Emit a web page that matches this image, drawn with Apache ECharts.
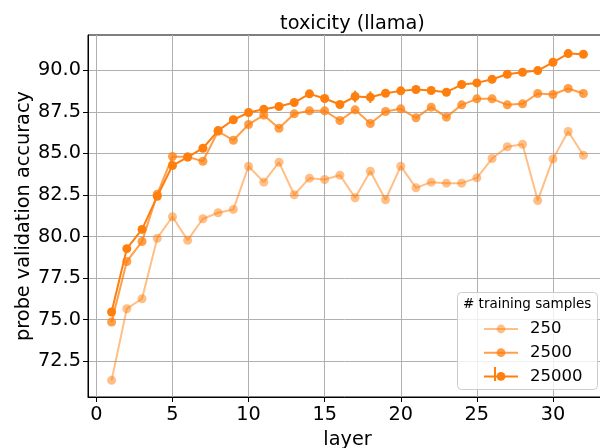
<!DOCTYPE html>
<html><head><meta charset="utf-8">
<script src="https://cdn.jsdelivr.net/npm/echarts@6/dist/echarts.min.js"></script>
<style>html,body{margin:0;padding:0;background:#fff}#c{width:600px;height:448px}</style>
</head><body><div id="c"></div>
<script>
var layers = [1,2,3,4,5,6,7,8,9,10,11,12,13,14,15,16,17,18,19,20,21,22,23,24,25,26,27,28,29,30,31,32];
var acc250 = [71.35,75.66,76.26,79.9,81.19,79.78,81.07,81.43,81.63,84.23,83.27,84.47,82.51,83.51,83.43,83.69,82.33,83.93,82.21,84.23,82.93,83.27,83.21,83.21,83.53,84.69,85.40,85.55,82.17,84.67,86.32,84.89];
var acc2500 = [74.86,78.5,79.7,82.55,84.81,84.79,84.53,86.33,85.79,86.74,87.3,86.51,87.38,87.56,87.56,86.98,87.62,86.80,87.52,87.68,87.14,87.78,87.18,87.92,88.28,88.28,87.92,87.98,88.60,88.54,88.90,88.60];
var acc25000 = [75.46,79.27,80.43,82.42,84.27,84.78,85.31,86.37,87.02,87.46,87.65,87.82,88.06,88.58,88.30,87.94,88.42,88.38,88.62,88.76,88.84,88.78,88.68,89.14,89.24,89.46,89.76,89.88,89.98,90.48,91.0,90.96];
var err25000 = [0.25,0.15,0.15,0.15,0.15,0.1,0.15,0.15,0.15,0.1,0.15,0.1,0.1,0.15,0.1,0.1,0.35,0.35,0.15,0.15,0.15,0.15,0.1,0.1,0.1,0.1,0.1,0.1,0.1,0.1,0.15,0.1];
var xTicks = [0,5,10,15,20,25,30];
var yTicks = [72.5,75,77.5,80,82.5,85,87.5,90];
var seriesNames = ['250','2500','25000'];
var titleText = 'toxicity (llama)';
var legendTitle = '# training samples';

var ORANGE = '#ff7f0e';
var FONT = 'DejaVu Sans';
var FS = 19.3;
function pairs(v){ return layers.map(function(l,i){ return [l, v[i]]; }); }

var chart = echarts.init(document.getElementById('c'), null, {renderer:'canvas'});
function lineSeries(name, vals, op, z){
  return {
    type:'line', name:name, data:pairs(vals), z:z,
    symbol:'circle', symbolSize:9, showSymbol:true,
    lineStyle:{color:ORANGE, width:2, opacity:op},
    itemStyle:{color:ORANGE, opacity:op},
    emphasis:{disabled:true}, animation:false
  };
}
var option = {
  animation:false,
  title:{text:titleText, left:347.5, top:9, textAlign:'center',
    textStyle:{fontFamily:FONT, fontSize:FS, fontWeight:'normal', color:'#000'}},
  grid:{left:88, top:35, width:519, height:362, outerBoundsMode:'none', containLabel:false,
    show:true, borderColor:'#000', borderWidth:1, backgroundColor:'transparent'},
  xAxis:{type:'value', min:-0.55, max:33.55,
    name:'layer', nameLocation:'middle', nameGap:33, nameMoveOverlap:false,
    nameTextStyle:{fontFamily:FONT, fontSize:FS, color:'#000'},
    axisLine:{onZero:false, lineStyle:{color:'#000', width:1}},
    axisTick:{show:true, customValues:xTicks, length:5, lineStyle:{color:'#000'}},
    axisLabel:{customValues:xTicks, fontFamily:FONT, fontSize:FS, color:'#000', margin:8},
    splitLine:{show:true, lineStyle:{color:'#b0b0b0', width:1}}
  },
  yAxis:{type:'value', min:70.35, max:92.12,
    name:'probe validation accuracy', nameLocation:'middle', nameGap:55, nameMoveOverlap:false,
    nameTextStyle:{fontFamily:FONT, fontSize:FS, color:'#000'},
    axisLine:{onZero:false, lineStyle:{color:'#000', width:1}},
    axisTick:{show:true, customValues:yTicks, length:5, lineStyle:{color:'#000'}},
    axisLabel:{customValues:yTicks, fontFamily:FONT, fontSize:FS, color:'#000', margin:7,
      formatter:function(v){ return Number(v).toFixed(1); }},
    splitLine:{show:true, lineStyle:{color:'#b0b0b0', width:1}}
  },
  legend:{orient:'vertical', left:478, top:315, itemWidth:34, itemHeight:11, itemGap:5.7, z:100,
    data:seriesNames, selectedMode:false,
    textStyle:{fontFamily:FONT, fontSize:16.5, lineHeight:18, color:'#000', padding:[0,0,0,7]}},
  series:[
    lineSeries(seriesNames[0], acc250, 0.5, 2),
    lineSeries(seriesNames[1], acc2500, 0.75, 3),
    {type:'custom', name:'err', z:4, silent:true,
      data:layers.map(function(l,i){ return [l, acc25000[i]-err25000[i], acc25000[i]+err25000[i]]; }),
      renderItem:function(params, api){
        var a = api.coord([api.value(0), api.value(1)]);
        var b = api.coord([api.value(0), api.value(2)]);
        return {type:'line', shape:{x1:a[0], y1:a[1], x2:b[0], y2:b[1]}, style:{stroke:ORANGE, lineWidth:2}};
      }, animation:false},
    lineSeries(seriesNames[2], acc25000, 1, 5)
  ],
  graphic:[
    {type:'rect', left:457, top:292, z:50, shape:{width:140, height:97, r:4},
      style:{fill:'rgba(255,255,255,0.8)', stroke:'#cccccc', lineWidth:1}},
    {type:'text', left:463, top:297, z:51, style:{text:legendTitle, font:'13.5px "DejaVu Sans"', fill:'#000'}},
    {type:'line', z:150, shape:{x1:495, y1:367, x2:495, y2:381}, style:{stroke:ORANGE, lineWidth:2}}
  ]
};
chart.setOption(option);
</script></body></html>
